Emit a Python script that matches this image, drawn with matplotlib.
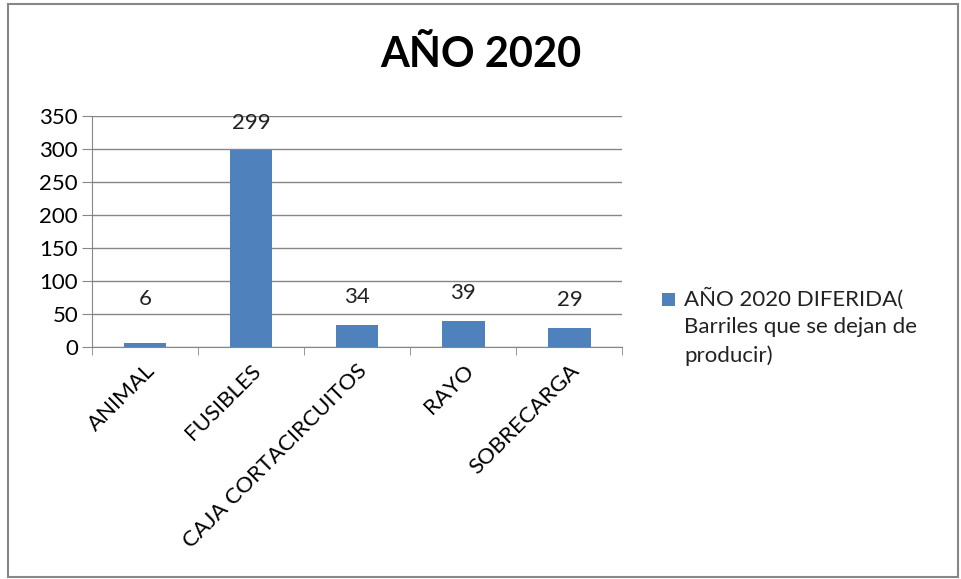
import matplotlib
matplotlib.use('Agg')
import matplotlib.pyplot as plt
from matplotlib.patches import Rectangle

# Data
categories = ['ANIMAL', 'FUSIBLES', 'CAJA CORTACIRCUITOS', 'RAYO', 'SOBRECARGA']
values = [6, 299, 34, 39, 29]
series_name = 'AÑO 2020 DIFERIDA(\nBarriles que se dejan de\nproducir)'
title = 'AÑO 2020'
y_ticks = [0, 50, 100, 150, 200, 250, 300, 350]

bar_color = '#4F81BD'
plt.rcParams['font.family'] = ['Lato', 'DejaVu Sans']

fig = plt.figure(figsize=(9.61, 5.79), dpi=100)
ax = fig.add_axes([0.0957, 0.4007, 0.552, 0.399])

x = list(range(len(categories)))
ax.bar(x, values, width=0.4, color=bar_color, zorder=3)
# label offsets in px (the small ANIMAL label sits a bit higher in the original)
label_offsets = [44, 27, 28, 28, 28]
for xi, v, off in zip(x, values, label_offsets):
    ax.annotate(str(v), (xi, v), xytext=(0, off * 0.72), textcoords='offset points',
                ha='center', va='center', fontsize=16, color='#222222')

ax.set_xlim(-0.5, len(categories) - 0.5)
ax.set_ylim(0, 350)
ax.set_yticks(y_ticks)
ax.yaxis.grid(True, color='#868686', linewidth=1, zorder=0)
ax.tick_params(axis='y', length=7, color='#868686', labelsize=16, pad=3)

ax.set_xticks(x)
ax.set_xticklabels(categories, rotation=45, ha='right', rotation_mode='anchor', fontsize=16)
ax.tick_params(axis='x', which='major', length=0, pad=10)
ax.set_xticks([i - 0.5 for i in range(len(categories) + 1)], minor=True)
ax.tick_params(axis='x', which='minor', length=6, color='#868686')

for side in ['top', 'right']:
    ax.spines[side].set_visible(False)
for side in ['left', 'bottom']:
    ax.spines[side].set_color('#868686')

fig.text(0.5, 0.905, title, ha='center', va='center', fontsize=30, fontweight='bold')

# legend: square next to first line of the wrapped label
fig.patches.append(Rectangle((662 / 961, 1 - 306 / 579), 13 / 961, 13 / 579,
                             transform=fig.transFigure, facecolor=bar_color,
                             edgecolor='none'))
fig.text(684 / 961, 1 - 288 / 579, series_name, ha='left', va='top',
         fontsize=16, linespacing=1.45, color='#222222')

fig.patches.append(Rectangle((8 / 961, 2 / 579), 950 / 961, 573 / 579,
                             transform=fig.transFigure, fill=False,
                             edgecolor='#878787', linewidth=1.5))

fig.savefig('out.png', dpi=100)
